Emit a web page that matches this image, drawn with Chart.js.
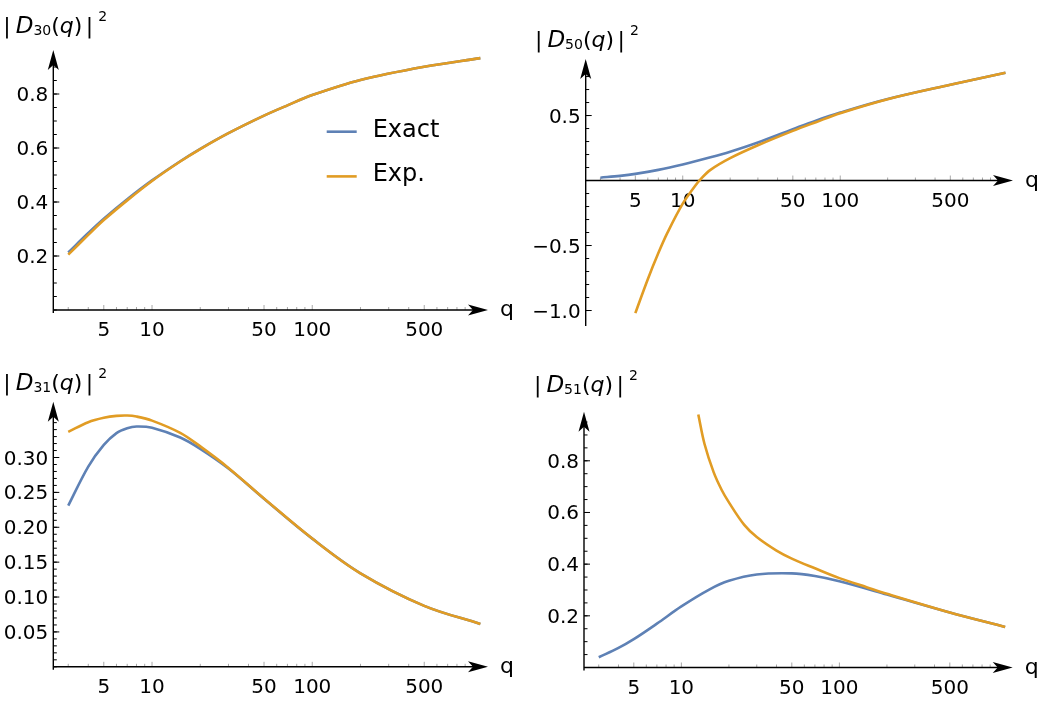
<!DOCTYPE html>
<html>
<head>
<meta charset="utf-8">
<script src="https://cdn.jsdelivr.net/npm/chart.js@4.4.0/dist/chart.umd.min.js"></script>
<style>
  html, body { margin: 0; padding: 0; background: #fff; }
  #page { position: relative; width: 1048px; height: 713px; overflow: hidden; }
  canvas { position: absolute; }
</style>
</head>
<body>
<div id="page">
  <canvas id="d30" width="520" height="345" style="left:0;top:0"></canvas>
  <canvas id="d50" width="528" height="345" style="left:520px;top:0"></canvas>
  <canvas id="d31" width="520" height="368" style="left:0;top:345px"></canvas>
  <canvas id="d51" width="528" height="368" style="left:520px;top:345px"></canvas>
</div>
<script>
const qGrid = [3, 4, 5, 7, 10, 15, 20, 30, 50, 70, 100, 200, 500, 1120];
const qFine = [3, 4, 5, 6, 7, 8, 10, 15, 20, 30, 50, 100, 200, 500, 1120];

// |D30(q)|^2  (on qGrid)
const d30Exact = [0.213, 0.285, 0.338, 0.410, 0.480, 0.551, 0.597, 0.655, 0.720, 0.758, 0.796, 0.852, 0.901, 0.933];
const d30Exp   = [0.205, 0.278, 0.333, 0.406, 0.478, 0.550, 0.596, 0.655, 0.720, 0.758, 0.796, 0.852, 0.901, 0.933];

// |D50(q)|^2
const d50Exact = [0.022, 0.036, 0.051, 0.082, 0.124, 0.179, 0.222, 0.293, 0.395, 0.461, 0.523, 0.627, 0.737, 0.829];
const qD50Exp  = [5, 6, 7, 8, 10, 12, 13, 15, 20, 30, 50, 70, 100, 200, 500, 1120];
const d50Exp   = [-1.02, -0.759, -0.558, -0.401, -0.178, -0.04, 0.011, 0.082, 0.172, 0.271, 0.382, 0.449, 0.518, 0.626, 0.737, 0.829];

// |D31(q)|^2  (on qFine)
const d31Exact = [0.231, 0.287, 0.318, 0.335, 0.342, 0.3445, 0.3427, 0.3286, 0.3124, 0.2842, 0.2409, 0.1837, 0.134, 0.0874, 0.0615];
const d31Exp   = [0.3368, 0.3506, 0.3569, 0.3597, 0.3602, 0.3587, 0.3529, 0.3353, 0.3159, 0.2851, 0.2412, 0.1838, 0.134, 0.0874, 0.0615];

// |D51(q)|^2
const d51Exact = [0.0395, 0.0758, 0.1098, 0.1697, 0.2364, 0.3015, 0.3353, 0.3599, 0.3643, 0.3541, 0.3339, 0.2827, 0.2131, 0.1571];
const qD51Exp  = [12.8, 14, 16, 18, 20, 25, 30, 40, 50, 70, 100, 150, 200, 500, 1120];
const d51Exp   = [0.979, 0.866, 0.756, 0.687, 0.639, 0.552, 0.505, 0.4525, 0.4215, 0.384, 0.346, 0.31, 0.285, 0.2131, 0.1571];

// axis ticks
const xTicks = [5, 10, 50, 100, 500];
const xTickLabels = ["5", "10", "50", "100", "500"];
const xMinorTicks = [3, 4, 6, 7, 8, 9, 20, 30, 40, 60, 70, 80, 90, 200, 300, 400, 600, 700, 800, 900, 1000];

const d30YTicks = [0.2, 0.4, 0.6, 0.8];
const d30YLabels = ["0.2", "0.4", "0.6", "0.8"];
const d50YTicks = [-1.0, -0.5, 0.5];
const d50YLabels = ["\u22121.0", "\u22120.5", "0.5"];
const d31YTicks = [0.05, 0.10, 0.15, 0.20, 0.25, 0.30];
const d31YLabels = ["0.05", "0.10", "0.15", "0.20", "0.25", "0.30"];
const d51YTicks = [0.2, 0.4, 0.6, 0.8];
const d51YLabels = ["0.2", "0.4", "0.6", "0.8"];

const seriesNames = ["Exact", "Exp."];
const exactColor = "#5E81B5";
const expColor = "#E19C24";
const FONT = "'DejaVu Sans', sans-serif";

function toPoints(xs, ys) {
  return xs.map((x, i) => ({ x: x, y: ys[i] }));
}

function drawArrow(ctx, x, y, dir) {
  const L = 20, W = 5.5, N = 5;
  ctx.beginPath();
  if (dir === "right") {
    ctx.moveTo(x, y);
    ctx.lineTo(x - L, y - W);
    ctx.lineTo(x - L + N, y);
    ctx.lineTo(x - L, y + W);
  } else {
    ctx.moveTo(x, y);
    ctx.lineTo(x - W, y + L);
    ctx.lineTo(x, y + L - N);
    ctx.lineTo(x + W, y + L);
  }
  ctx.closePath();
  ctx.fill();
}

function drawYTitle(ctx, x, y, sub) {
  // [text, font, dy, gap after]
  const parts = [
    ["|", "22px " + FONT, 0, 5],
    ["D", "italic 23px " + FONT, 0, 0],
    [sub, "14px " + FONT, 2, 0],
    ["(", "22px " + FONT, 0, 0],
    ["q", "italic 22px " + FONT, 0, 0],
    [")", "22px " + FONT, 0, 3.5],
    ["|", "22px " + FONT, 0, 5],
    ["2", "14px " + FONT, -12, 0]
  ];
  ctx.textAlign = "left";
  ctx.textBaseline = "alphabetic";
  let cx = x;
  parts.forEach(p => {
    ctx.font = p[1];
    ctx.fillText(p[0], cx, y + p[2]);
    cx += ctx.measureText(p[0]).width + p[3];
  });
}

const mmaAxes = {
  id: "mmaAxes",
  beforeDatasetsDraw(chart, args, opts) {
    const ctx = chart.ctx;
    const xs = chart.scales.x, ys = chart.scales.y;
    const area = chart.chartArea;
    const x0 = area.left;
    const y0 = ys.getPixelForValue(0);
    ctx.save();

    // x ticks: light grey, pointing up
    ctx.strokeStyle = "#a8a8a8";
    ctx.lineWidth = 1;
    ctx.beginPath();
    xMinorTicks.forEach(v => {
      const px = xs.getPixelForValue(v);
      ctx.moveTo(px, y0); ctx.lineTo(px, y0 - 3);
    });
    xTicks.forEach(v => {
      const px = xs.getPixelForValue(v);
      ctx.moveTo(px, y0); ctx.lineTo(px, y0 - 5);
    });
    ctx.stroke();

    // y ticks: black, pointing right
    ctx.strokeStyle = "#000";
    ctx.beginPath();
    const n = Math.round((ys.max - ys.min) / opts.yMinorStep) + 1;
    const start = Math.ceil(ys.min / opts.yMinorStep - 1e-6);
    for (let k = start; k < start + n; k++) {
      const v = k * opts.yMinorStep;
      if (v < ys.min || v > ys.max - 0.03 * (ys.max - ys.min)) continue;
      const py = ys.getPixelForValue(v);
      ctx.moveTo(x0, py); ctx.lineTo(x0 + 3.5, py);
    }
    opts.yTicks.forEach(v => {
      const py = ys.getPixelForValue(v);
      ctx.moveTo(x0, py); ctx.lineTo(x0 + 6, py);
    });
    ctx.stroke();

    // axes with arrowheads
    ctx.lineWidth = 1.4;
    ctx.fillStyle = "#000";
    ctx.beginPath();
    ctx.moveTo(x0, y0); ctx.lineTo(area.right - 10, y0);
    ctx.moveTo(x0, area.bottom + 3); ctx.lineTo(x0, area.top + 10);
    ctx.stroke();
    drawArrow(ctx, area.right, y0, "right");
    drawArrow(ctx, x0, area.top, "up");

    // tick labels
    ctx.font = "20px " + FONT;
    ctx.textBaseline = "alphabetic";
    ctx.textAlign = "center";
    xTicks.forEach((v, i) => {
      ctx.fillText(xTickLabels[i], xs.getPixelForValue(v), y0 + 26);
    });
    ctx.textAlign = "right";
    opts.yTicks.forEach((v, i) => {
      ctx.fillText(opts.yLabels[i], x0 - 5, ys.getPixelForValue(v) + 7);
    });

    // axis labels
    ctx.textAlign = "left";
    ctx.font = "22px " + FONT;
    ctx.fillText("q", area.right + 12, y0 + 6);
    drawYTitle(ctx, opts.title.x, opts.title.y, opts.title.sub);
    ctx.restore();
  },
  afterDatasetsDraw(chart, args, opts) {
    if (!opts.legend) return;
    const ctx = chart.ctx;
    const lg = opts.legend;
    ctx.save();
    chart.data.datasets.forEach((ds, i) => {
      const y = lg.y + i * lg.gap;
      ctx.strokeStyle = ds.borderColor;
      ctx.lineWidth = 2.6;
      ctx.beginPath();
      ctx.moveTo(lg.x, y); ctx.lineTo(lg.x + 30, y);
      ctx.stroke();
      ctx.fillStyle = "#000";
      ctx.font = "24px " + FONT;
      ctx.textAlign = "left";
      ctx.textBaseline = "alphabetic";
      ctx.fillText(ds.label, lg.x + 46, y + 5);
    });
    ctx.restore();
  }
};

function makePanel(id, cfg) {
  const line = { pointRadius: 0, borderWidth: 2.6, fill: false, tension: 0.35 };
  return new Chart(document.getElementById(id), {
    type: "line",
    data: {
      datasets: [
        Object.assign({ label: seriesNames[0], data: toPoints(cfg.exact[0], cfg.exact[1]), borderColor: exactColor, order: 2 }, line),
        Object.assign({ label: seriesNames[1], data: toPoints(cfg.exp[0], cfg.exp[1]), borderColor: expColor, order: 1 }, line)
      ]
    },
    options: {
      responsive: false,
      animation: false,
      events: [],
      layout: { padding: cfg.padding },
      scales: {
        x: { type: "logarithmic", min: 2.42, max: 1250, display: false },
        y: { type: "linear", min: cfg.yMin, max: cfg.yMax, display: false }
      },
      plugins: {
        legend: { display: false },
        tooltip: { enabled: false },
        mmaAxes: {
          yTicks: cfg.yTicks,
          yLabels: cfg.yLabels,
          yMinorStep: cfg.yMinorStep,
          title: cfg.title,
          legend: cfg.legend || null
        }
      }
    },
    plugins: [mmaAxes]
  });
}

makePanel("d30", {
  exact: [qGrid, d30Exact], exp: [qGrid, d30Exp],
  yMin: 0, yMax: 0.963, yTicks: d30YTicks, yLabels: d30YLabels, yMinorStep: 0.05,
  padding: { left: 53.3, top: 50, right: 32, bottom: 35 },
  title: { x: 3.3, y: 33, sub: "30" },
  legend: { x: 326.7, y: 131.7, gap: 44.7 }
});
makePanel("d50", {
  exact: [qGrid, d50Exact], exp: [qD50Exp, d50Exp],
  yMin: -1.096, yMax: 0.935, yTicks: d50YTicks, yLabels: d50YLabels, yMinorStep: 0.1,
  padding: { left: 65.7, top: 59, right: 35, bottom: 22 },
  title: { x: 15, y: 47, sub: "50" }
});
makePanel("d31", {
  exact: [qFine, d31Exact], exp: [qFine, d31Exp],
  yMin: 0, yMax: 0.38, yTicks: d31YTicks, yLabels: d31YLabels, yMinorStep: 0.01,
  padding: { left: 53.3, top: 56.7, right: 32, bottom: 46.2 },
  title: { x: 3.3, y: 45, sub: "31" }
});
makePanel("d51", {
  exact: [qGrid, d51Exact], exp: [qD51Exp, d51Exp],
  yMin: 0, yMax: 0.99, yTicks: d51YTicks, yLabels: d51YLabels, yMinorStep: 0.05,
  padding: { left: 64, top: 66.7, right: 35.3, bottom: 45.5 },
  title: { x: 14, y: 46.7, sub: "51" }
});
</script>
</body>
</html>
